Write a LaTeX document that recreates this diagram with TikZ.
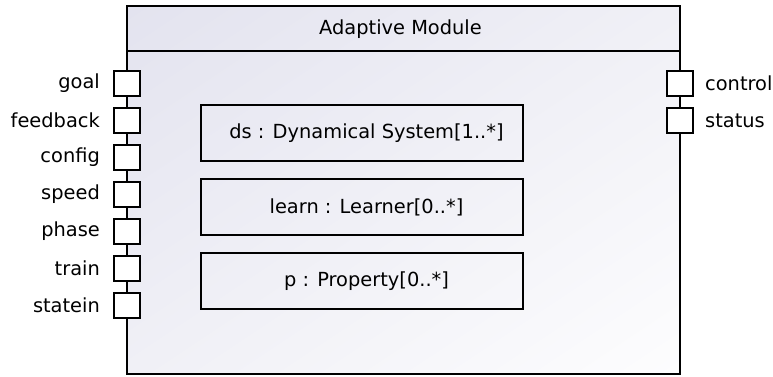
\documentclass[tikz,border=0pt]{standalone}
\usepackage{fontspec}
\setmainfont{DejaVu Sans}
\usetikzlibrary{shadings}
\definecolor{lavA}{HTML}{E3E3EF}
\definecolor{lavM}{HTML}{F0F0F6}
\definecolor{lavB}{HTML}{FDFDFE}
\begin{document}
\begin{tikzpicture}[x=1pt,y=-1pt,
  font=\fontsize{19.4}{23}\selectfont,
  edge/.style={line width=1.9pt, draw=black},
  port/.style={edge, fill=white, minimum width=26pt, minimum height=25pt, inner sep=0pt},
  part/.style={edge, minimum width=322pt, minimum height=56pt, inner sep=0pt},
  ptext/.style={inner sep=0pt, xshift=4.5pt},
  plabel/.style={inner sep=0pt}]
\useasboundingbox (0,0) rectangle (773,376);
% main block
\shade[upper left=lavA, upper right=lavM, lower left=lavM, lower right=lavB] (127,6) rectangle (680,374);
\node[edge, minimum width=553pt, minimum height=368pt, inner sep=0pt] (blk) at (403.5,190) {};
\coordinate (hl) at (127,51);
\coordinate (hr) at (680,51);
\draw[edge] (hl) -- (hr);
\node (title) at (400.5,29) {Adaptive Module};
% parts
\node[part] (ds) at (362,133) {};
\node[part] (learn) at (362,207) {};
\node[part] (p) at (362,281) {};
\node[ptext] (dsT) at (ds) {ds : Dynamical System[1..*]};
\node[ptext] (learnT) at (learn) {learn : Learner[0..*]};
\node[ptext] (pT) at (p) {p : Property[0..*]};
% left ports
\foreach \n/\t [count=\i from 0] in {goal/goal,feedback/feedback,config/config,speed/speed,phase/phase,train/train,statein/statein}{
  \node[port] (\n) at (127,{83.5+37*\i}) {};
  \node[plabel, anchor=east] (\n L) at ([xshift=-13pt]\n.west) {\t};
}
% right ports
\foreach \n/\t [count=\i from 0] in {control/control,status/status}{
  \node[port] (\n) at (680,{83.5+37*\i}) {};
  \node[plabel, anchor=west] (\n L) at ([xshift=11pt]\n.east) {\t};
}
\end{tikzpicture}
\end{document}
